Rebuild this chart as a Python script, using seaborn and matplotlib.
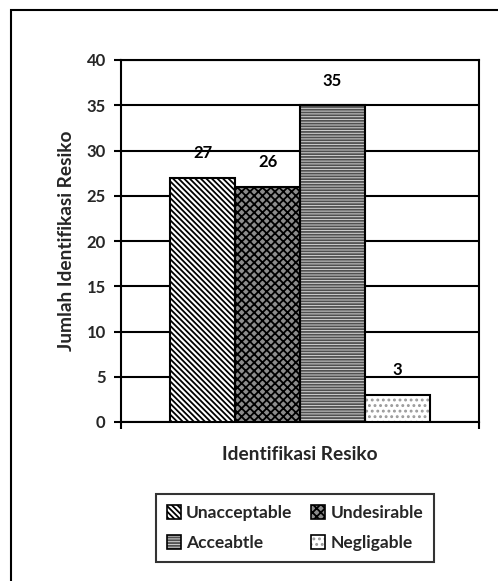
import matplotlib
matplotlib.use("Agg")
import matplotlib.pyplot as plt
import seaborn as sns
import pandas as pd
from matplotlib.patches import Patch, Rectangle

categories = ["Unacceptable", "Undesirable", "Acceabtle", "Negligable"]
values = [27, 26, 35, 3]
group = ["Identifikasi Resiko"] * 4
yticks = [0, 5, 10, 15, 20, 25, 30, 35, 40]

faces = ["white", "#8c8c8c", "#d4d4d4", "white"]
hatches = ["\\" * 6, "x" * 4, "-" * 6, "..."]
hatch_cols = ["black", "black", "#505050", "#9a9a9a"]

sns.set_theme(style="white")
plt.rcParams["font.family"] = ["Lato", "DejaVu Sans"]
plt.rcParams["font.weight"] = "bold"
plt.rcParams["hatch.linewidth"] = 1.3

df = pd.DataFrame({"grup": group, "kategori": categories, "jumlah": values})

fig = plt.figure(figsize=(4.98, 5.81), dpi=100)
ax = fig.add_axes([121 / 498, 1 - 422 / 581, 358 / 498, 362 / 581])

sns.barplot(data=df, x="grup", y="jumlah", hue="kategori", hue_order=categories,
            width=0.726, ax=ax, legend=False, saturation=1, zorder=3)

bars = [p for p in ax.patches if isinstance(p, Rectangle)][:4]
for p, fc, h, hc in zip(bars, faces, hatches, hatch_cols):
    p.set_facecolor(fc)
    p.set_hatch(h)
    p.set_edgecolor(hc)
    p.set_linewidth(0)
    # black outline drawn over the hatched bar
    ax.add_patch(Rectangle((p.get_x(), p.get_y()), p.get_width(), p.get_height(),
                           fill=False, edgecolor="black", linewidth=1.5, zorder=4))

for p, v in zip(bars, values):
    ax.annotate(str(v), (p.get_x() + p.get_width() / 2, p.get_height()),
                xytext=(0, 12), textcoords="offset points", ha="center", va="bottom",
                fontsize=12, fontweight="bold", color="black")

ax.set_xlim(-0.5, 0.5)
ax.set_ylim(0, 40)
ax.set_yticks(yticks)
ax.set_yticklabels([str(t) for t in yticks], fontsize=12, fontweight="bold")
ax.set_xticks([])
ax.set_xticks([-0.5, 0.5], minor=True)
ax.tick_params(axis="x", which="minor", direction="out", length=5, width=1.5, color="black", bottom=True)
ax.tick_params(axis="y", direction="out", length=5, width=1.5, color="black", left=True, pad=6)
ax.grid(axis="y", color="black", linewidth=1.5, zorder=0)
ax.set_axisbelow(True)
for s in ax.spines.values():
    s.set_color("black")
    s.set_linewidth(1.5)

ax.set_xlabel("Identifikasi Resiko", fontsize=13.8, fontweight="bold", labelpad=9)
ax.set_ylabel("Jumlah Identifikasi Resiko", fontsize=13.8, fontweight="bold", labelpad=8)

handles = []
for fc, h, hc in zip(faces, hatches, hatch_cols):
    hp = Patch(facecolor=fc, hatch=h, edgecolor=hc, linewidth=0)
    outline = Patch(facecolor="none", edgecolor="black", linewidth=1.2)
    handles.append((hp, outline))
order = [0, 2, 1, 3]
leg = fig.legend([handles[i] for i in order], [categories[i] for i in order], ncol=2, loc="center",
                 bbox_to_anchor=(295 / 498, 1 - 528 / 581), frameon=True,
                 fancybox=False, edgecolor="black", handlelength=0.8, handleheight=0.8,
                 handletextpad=0.3, columnspacing=1.1, labelspacing=0.8,
                 prop={"weight": "bold", "size": 12.5}, borderpad=0.65)
leg.get_frame().set_linewidth(1.5)

fig.patches.append(Rectangle((11 / 498, -0.2), 1.2, 1 - 10 / 581 + 0.2,
                             transform=fig.transFigure, fill=False,
                             edgecolor="black", linewidth=1.5))

fig.savefig("out.png", dpi=100)
